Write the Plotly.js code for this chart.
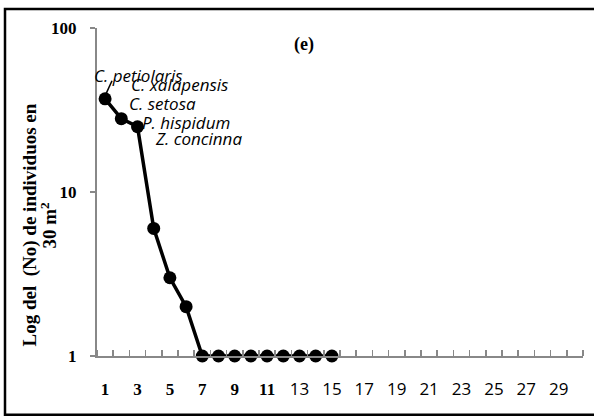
<!DOCTYPE html>
<html>
<head>
<meta charset="utf-8">
<script src="https://cdn.plot.ly/plotly-3.0.1.min.js"></script>
<style>
html,body{margin:0;padding:0;background:#fff;}
#chart{width:594px;height:417px;}
</style>
</head>
<body>
<div id="chart"></div>
<script>
// Rank (category) and abundance values
const ranks = [1,2,3,4,5,6,7,8,9,10,11,12,13,14,15];
const individuals = [37,28,25,6,3,2,1,1,1,1,1,1,1,1,1];

// x-axis tick labels (categories 1..30, odd ones labelled)
const xTickVals = [1,3,5,7,9,11,13,15,17,19,21,23,25,27,29];
const xTickLabels = ["1","3","5","7","9","11","13","15","17","19","21","23","25","27","29"];
const yTickVals = [1,10,100];
const yTickLabels = ["1","10","100"];

// species labels for top ranks
const speciesNames = ["C. petiolaris","C. xalapensis","C. setosa","P. hispidum","Z. concinna"];
const speciesX = [0.5, 2.47, 2.35, 3.15, 3.96];
const speciesShift = [-5, 0, 0, 0, 0];
const speciesY = [1.708, 1.653, 1.538, 1.422, 1.325]; // log10 positions

const yTitleLines = ["Log del  (No) de individuos en", "30 m<sup>2</sup>"];

const serif = "'Liberation Serif', 'DejaVu Serif', serif";
const sans = "'Open Sans', 'Liberation Sans', sans-serif";

const xText = xTickLabels.map((t, i) =>
  xTickVals[i] <= 11
    ? '<span style="font-family:Liberation Serif;font-weight:bold">' + t + '</span>'
    : t);

const trace = {
  x: ranks,
  y: individuals,
  type: 'scatter',
  mode: 'lines+markers',
  line: {color: '#000', width: 3.5},
  marker: {color: '#000', size: 13},
  cliponaxis: false,
  hoverinfo: 'skip'
};

const annotations = speciesNames.map((n, i) => ({
  x: speciesX[i], y: speciesY[i], xref: 'x', yref: 'y',
  xshift: speciesShift[i],
  text: '<i>' + n + '</i>', showarrow: false,
  xanchor: 'left', yanchor: 'middle',
  font: {family: sans, size: 17, color: '#000'}
}));

annotations.push({
  x: 0.426, y: 0.951, xref: 'paper', yref: 'paper',
  xanchor: 'center', yanchor: 'middle',
  text: '<b>(e)</b>', showarrow: false,
  font: {family: serif, size: 18, color: '#000'}
});

const yTitleX = [-0.1379, -0.0988];
yTitleLines.forEach((t, i) => annotations.push({
  x: yTitleX[i], y: 0.401, xref: 'paper', yref: 'paper',
  xanchor: 'center', yanchor: 'middle',
  text: '<b>' + t + '</b>',
  textangle: -90, showarrow: false,
  font: {family: serif, size: 19, color: '#000'}
}));

const layout = {
  width: 594, height: 417,
  margin: {l: 97, r: 11, t: 28, b: 61},
  paper_bgcolor: '#fff', plot_bgcolor: '#fff',
  showlegend: false,
  xaxis: {
    range: [0.5, 30.5],
    tickmode: 'array', tickvals: xTickVals, ticktext: xText,
    ticks: '', showgrid: false, zeroline: false,
    showline: true, linecolor: '#888', linewidth: 2,
    ticklabelstandoff: 17,
    tickfont: {family: sans, size: 17, color: '#000'},
    minor: {tick0: 0.5, dtick: 1, ticks: 'inside', ticklen: 6, tickcolor: '#888', tickwidth: 1.5, showgrid: false}
  },
  yaxis: {
    type: 'log', range: [0, 2],
    tickmode: 'array', tickvals: yTickVals, ticktext: yTickLabels.map(t => '<b>' + t + '</b>'),
    ticks: 'outside', ticklen: 5, tickcolor: '#888', tickwidth: 2,
    showgrid: false, zeroline: false,
    showline: true, linecolor: '#888', linewidth: 2,
    ticklabelstandoff: 10,
    tickfont: {family: serif, size: 17, color: '#000'}
  },
  shapes: [
    {type: 'rect', xref: 'paper', yref: 'paper',
     x0: -0.1893, x1: 1.03, y0: -0.1793, y1: 1.0578,
     line: {color: '#000', width: 2.5}, fillcolor: 'rgba(0,0,0,0)'},
    {type: 'line', xref: 'paper', yref: 'paper',
     x0: 0.0309, y0: 0.839, x1: 0.0185, y1: 0.799,
     line: {color: '#000', width: 1.5}}
  ],
  annotations: annotations
};

Plotly.newPlot('chart', [trace], layout, {displayModeBar: false, staticPlot: true});
</script>
</body>
</html>
